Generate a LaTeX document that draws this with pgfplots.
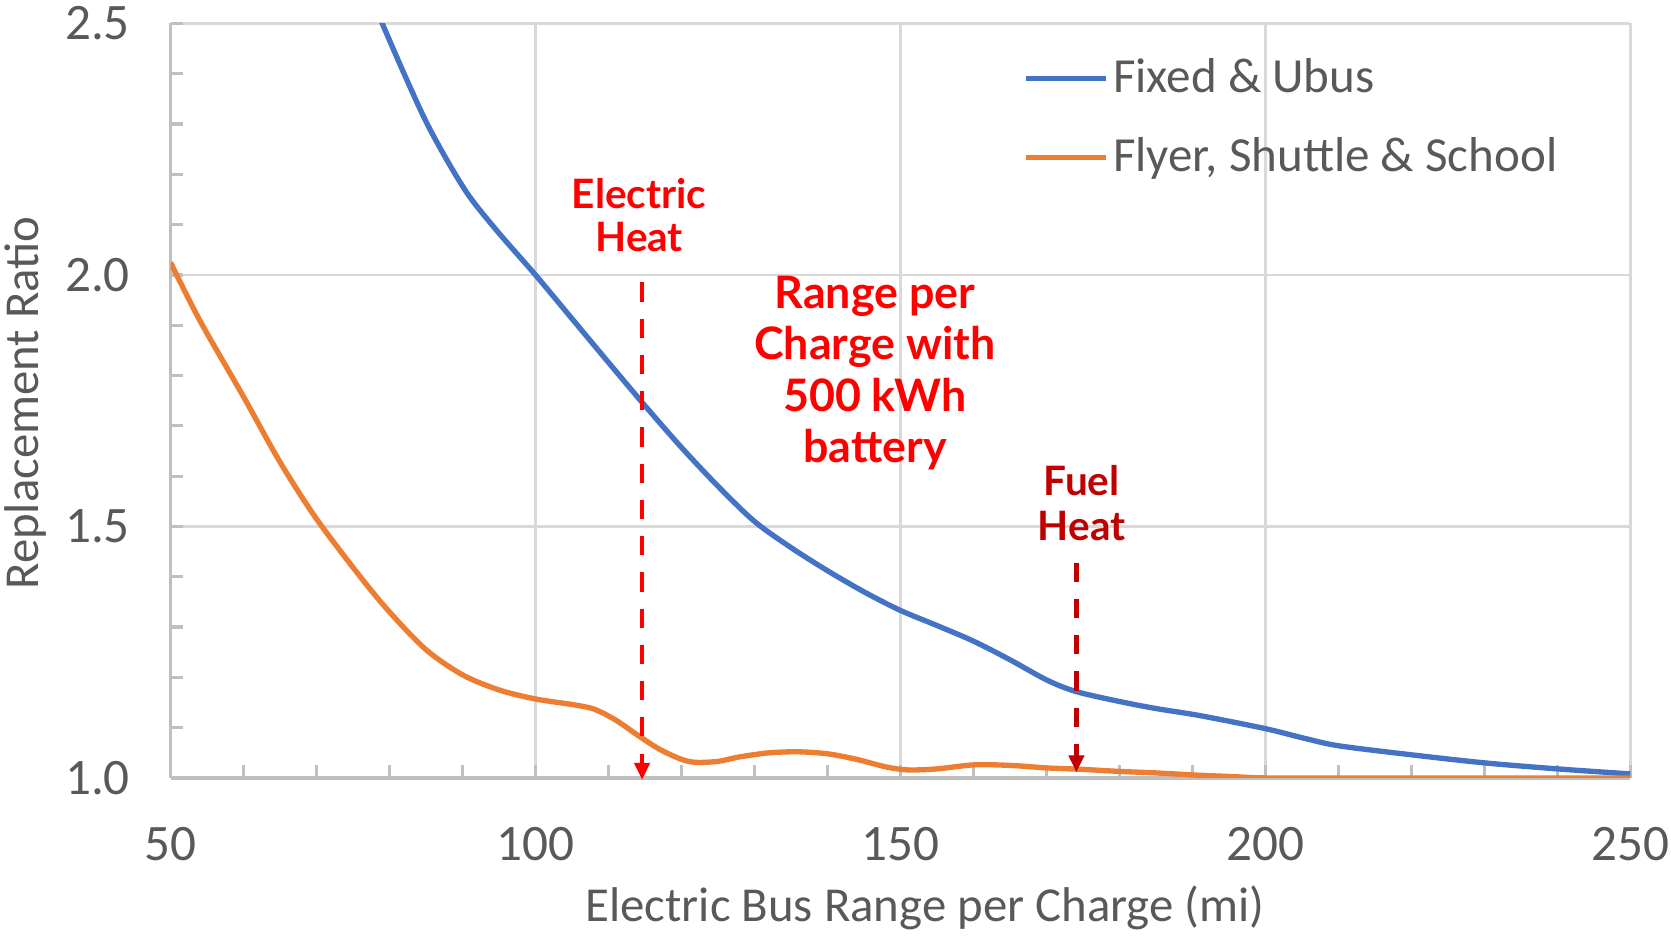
\documentclass[border=0pt]{standalone}
\usepackage{fontspec}
\setmainfont{Carlito}
\newfontfamily\annfont{Lato}
\usepackage{pgfplots}
\pgfplotsset{compat=1.18}
\usetikzlibrary{arrows.meta}
\definecolor{fbblue}{HTML}{4472C4}
\definecolor{fborange}{HTML}{ED7D31}
\definecolor{txtgray}{HTML}{595959}
\definecolor{gridgray}{HTML}{D9D9D9}
\definecolor{axgray}{HTML}{BFBFBF}
\definecolor{fuelred}{HTML}{C00000}
\begin{document}
\begin{tikzpicture}
\useasboundingbox (-40pt,-37.5pt) rectangle (352pt,182.5pt);
\begin{axis}[
  at={(0pt,0pt)}, anchor=south west,
  scale only axis, width=342.5pt, height=177pt,
  xmin=50, xmax=250, ymin=1, ymax=2.5,
  clip mode=individual,
  axis x line*=bottom, axis y line*=left,
  axis line style={axgray, line width=0.75pt, -},
  xtick={50,100,150,200,250}, ytick={1,1.5,2,2.5},
  minor x tick num=4, minor y tick num=4,
  tick align=inside,
  major tick length=3pt, minor tick length=3pt,
  tick style={axgray, line width=0.75pt},
  grid=major, major grid style={gridgray, line width=0.5pt},
  ticklabel style={font=\fontsize{12}{14}\selectfont, text=txtgray},
  xticklabel style={yshift=-8pt},
  yticklabel style={xshift=-6pt, /pgf/number format/.cd, fixed, fixed zerofill, precision=1},
  /pgf/number format/assume math mode=true,
  xlabel={Electric Bus Range per Charge (mi)},
  ylabel={Replacement Ratio},
  label style={font=\fontsize{11.45}{13}\selectfont, text=txtgray},
  xlabel style={at={(axis description cs:0.5168,-0.1723)}, anchor=center},
  ylabel style={at={(axis description cs:-0.0993,0.497)}, anchor=center},
  legend style={at={(0.575,0.972)}, anchor=north west, draw=none, fill=none,
    font=\fontsize{11.5}{13.5}\selectfont, text=txtgray, row sep=7pt, nodes={inner sep=1pt}},
  legend cell align=left,
  legend image code/.code={\draw[#1, line width=1.25pt] (0pt,0pt) -- (18.75pt,0pt);},
]
\addplot[fbblue, line width=1.25pt, smooth, tension=0.5] coordinates {
(77,2.565) (79,2.50) (82,2.40) (85,2.305) (88,2.225) (91,2.155) (95,2.083) (100,2.00)
(105,1.913) (110,1.826) (115,1.740) (120,1.657) (125,1.580) (130,1.510)
(135,1.458) (140,1.412) (145,1.370) (150,1.333) (155,1.303) (160,1.272) (165,1.235)
(170,1.195) (174,1.172) (180,1.152) (185,1.138) (191,1.124) (200,1.098) (205,1.08)
(210,1.064) (220,1.046) (230,1.030) (240,1.018) (250,1.008)
};
\addlegendentry{Fixed \& Ubus}
\addplot[fborange, line width=1.25pt, smooth, tension=0.5] coordinates {
(50,2.025) (54,1.91) (60,1.758) (65,1.628) (70,1.515) (76,1.40) (80,1.33) (85,1.255)
(90,1.205) (95,1.175) (100,1.157) (105,1.146) (108,1.137) (111,1.115) (114,1.085)
(117,1.057) (120,1.037) (122,1.031) (125,1.033) (128,1.042) (132,1.050) (136,1.052)
(140,1.048) (144,1.037) (148,1.022) (151,1.016) (155,1.018) (160,1.026) (165,1.025)
(170,1.020) (175,1.017) (180,1.013) (185,1.010) (190,1.006) (195,1.003) (200,1.000)
(210,1.000) (220,1.000) (230,1.000) (250,1.000)
};
\addlegendentry{Flyer, Shuttle \& School}
\draw[red, line width=1pt, dash pattern=on 4.5pt off 4pt, -{Triangle[length=4pt,width=3.5pt]}]
  (axis cs:114.6,1.985) -- (axis cs:114.6,0.996);
\draw[fuelred, line width=1pt, dash pattern=on 4.5pt off 4pt, -{Triangle[length=4pt,width=3.5pt]}]
  (axis cs:174.1,1.428) -- (axis cs:174.1,1.011);
\node[red, font=\annfont\bfseries\fontsize{9.5}{10}\selectfont, align=center] at (axis cs:114.2,2.119) {Electric\\Heat};
\node[red, font=\annfont\bfseries\fontsize{10.5}{12}\selectfont, align=center] at (axis cs:146.5,1.805) {Range per\\Charge with\\500 kWh\\battery};
\node[fuelred, font=\annfont\bfseries\fontsize{9.5}{10.5}\selectfont, align=center] at (axis cs:174.8,1.547) {Fuel\\Heat};
\end{axis}
\end{tikzpicture}
\end{document}
